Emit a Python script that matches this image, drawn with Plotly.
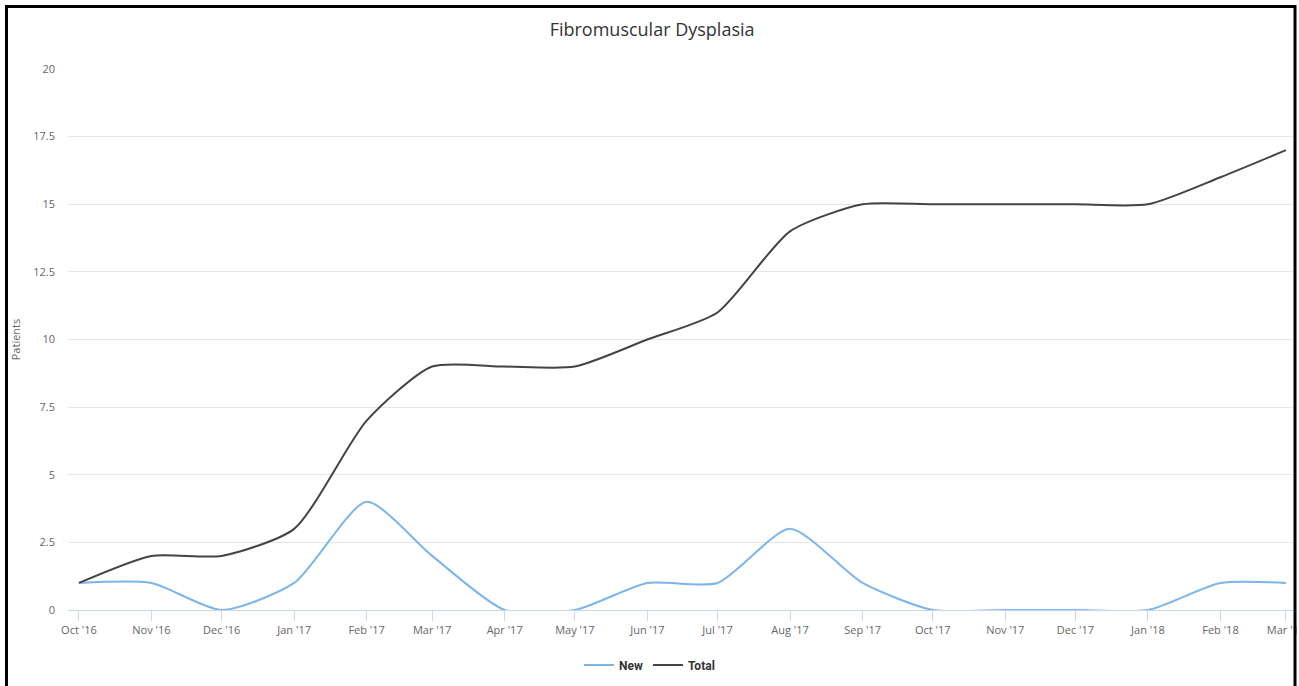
import plotly.graph_objects as go

dates = ["2016-10-01", "2016-11-01", "2016-12-01", "2017-01-01", "2017-02-01", "2017-03-01",
         "2017-04-01", "2017-05-01", "2017-06-01", "2017-07-01", "2017-08-01", "2017-09-01",
         "2017-10-01", "2017-11-01", "2017-12-01", "2018-01-01", "2018-02-01", "2018-03-01"]
tick_labels = ["Oct '16", "Nov '16", "Dec '16", "Jan '17", "Feb '17", "Mar '17", "Apr '17", "May '17",
               "Jun '17", "Jul '17", "Aug '17", "Sep '17", "Oct '17", "Nov '17", "Dec '17", "Jan '18",
               "Feb '18", "Mar '18"]
new_patients = [1, 1, 0, 1, 4, 2, 0, 0, 1, 1, 3, 1, 0, 0, 0, 0, 1, 1]
total_patients = [1, 2, 2, 3, 7, 9, 9, 9, 10, 11, 14, 15, 15, 15, 15, 15, 16, 17]
y_ticks = [0, 2.5, 5, 7.5, 10, 12.5, 15, 17.5, 20]

W, H = 1299, 686
L, R, T, B = 68, 3, 69, 76

fig = go.Figure()
fig.add_trace(go.Scatter(x=dates, y=new_patients, name="New", mode="lines",
                         line=dict(color="#7cb5ec", width=2, shape="spline", smoothing=0.65)))
fig.add_trace(go.Scatter(x=dates, y=total_patients, name="Total", mode="lines",
                         line=dict(color="#434348", width=2, shape="spline", smoothing=0.65)))

pw = W - L - R
ph = H - T - B
def px_x(p):
    return (p - L) / pw
def px_y(p):
    return (H - B - p) / ph

# outer black frame
fig.add_shape(type="rect", xref="paper", yref="paper",
              x0=px_x(6.5), x1=px_x(1295), y0=px_y(700), y1=px_y(6.5),
              line=dict(color="black", width=3), fillcolor="rgba(0,0,0,0)", layer="above")

fig.update_layout(
    width=W, height=H,
    margin=dict(l=L, r=R, t=T, b=B, autoexpand=False),
    paper_bgcolor="white", plot_bgcolor="white",
    font=dict(family="Open Sans, Arial, sans-serif", color="#666666", size=11),
    title=dict(text="Fibromuscular Dysplasia", x=0.502, xref="container", xanchor="center",
               y=1 - 30 / H, yref="container", yanchor="middle",
               font=dict(size=18, color="#333333", family="Open Sans, Arial, sans-serif")),
    showlegend=True,
    legend=dict(orientation="h", xref="container", yref="container", x=0.5, xanchor="center",
                y=1 - 665 / H, yanchor="middle",
                font=dict(size=12, color="#333333",
                          family="Liberation Sans Narrow, Arial Narrow, Roboto, sans-serif",
                          weight="bold"),
                itemwidth=30),
    xaxis=dict(type="date", range=["2016-09-26 08:00", "2018-03-05 07:00"],
               tickvals=dates, ticktext=tick_labels, tickangle=0,
               ticklabeloverflow="allow", automargin=False,
               showgrid=False, zeroline=False,
               showline=True, linecolor="#ccd6eb", linewidth=1,
               ticks="outside", ticklen=10, tickcolor="#ccd6eb", tickwidth=1,
               tickfont=dict(size=11, color="#666666")),
    yaxis=dict(range=[0, 20], tickvals=y_ticks, ticktext=[("%g" % v) for v in y_ticks],
               automargin=False,
               showgrid=True, gridcolor="#e6e6e6", gridwidth=1, zeroline=False,
               showline=False, ticks="", ticklabelstandoff=12,
               tickfont=dict(size=11, color="#666666"),
               title=dict(text="Patients", standoff=10,
                          font=dict(size=11, color="#666666"))),
)

fig.write_html("out.html", config={"displayModeBar": False},
               post_script="document.body.style.margin='0';")
